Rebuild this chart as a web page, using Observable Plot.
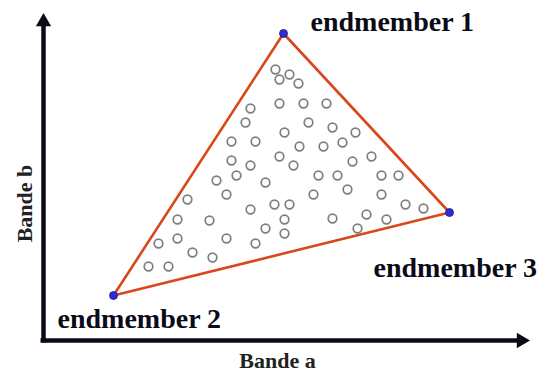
<!DOCTYPE html>
<html>
<head>
<meta charset="utf-8">
<script src="https://cdn.jsdelivr.net/npm/d3@7"></script>
<script src="https://cdn.jsdelivr.net/npm/@observablehq/plot@0.6"></script>
<style>
  html, body { margin: 0; padding: 0; background: #fff; }
  #chart { width: 540px; height: 372px; }
</style>
</head>
<body>
<div id="chart"></div>
<script>
// Pixel (Bande a, Bande b) values; origin at the axes corner
const endmemberNames = ["endmember 1", "endmember 2", "endmember 3"];
const endmemberA = [240, 70, 406];
const endmemberB = [307, 45, 128];

const pixelA = [232, 246, 236, 255, 207, 236, 260, 283, 202, 265, 289, 312, 241, 188, 212, 256, 280, 299,
  188, 207, 236, 250, 309, 328, 173, 193, 222, 275, 294, 338, 355, 183, 270, 304, 338, 144,
  207, 231, 246, 362, 380, 134, 166, 241, 289, 323, 343, 222, 314, 241, 115, 134, 183, 212, 149, 169, 105, 125];
const pixelB = [271, 266, 261, 257, 232, 237, 237, 237, 218, 218, 213, 208, 208, 199, 199, 194, 194, 198,
  180, 175, 184, 175, 179, 184, 160, 165, 158, 165, 165, 165, 165, 146, 146, 151, 146, 141,
  131, 136, 136, 136, 132, 121, 120, 121, 122, 126, 121, 112, 112, 107, 97, 102, 102, 97, 88, 83, 74, 74];

const axisTipA = 489;   // end of Bande a axis
const axisTipB = 330;   // end of Bande b axis
const axisLabels = ["Bande a", "Bande b"];

const vertices = endmemberNames.map((name, i) => ({name, a: endmemberA[i], b: endmemberB[i]}));
const polygon = [...vertices, vertices[0]];
const pixels = pixelA.map((a, i) => ({a, b: pixelB[i]}));

const serif = "'Liberation Serif', 'Times New Roman', serif";
const ink = "#0b0b18";

const chart = Plot.plot({
  width: 540,
  height: 372,
  margin: 0,
  x: {domain: [-43, 497], axis: null},
  y: {domain: [-32, 340], axis: null},
  style: {background: "white", fontFamily: serif},
  marks: [
    // axes
    Plot.ruleX([0], {y1: -2.5, y2: axisTipB - 12, stroke: ink, strokeWidth: 4.5}),
    Plot.ruleY([0], {x1: -2.5, x2: axisTipA - 14, stroke: ink, strokeWidth: 4.5}),
    Plot.dot([{a: 0, b: axisTipB}], {x: "a", y: "b", symbol: "triangle2", r: 7.3, fill: ink, stroke: "none", dy: 11.3}),
    Plot.dot([{a: axisTipA, b: 0}], {x: "a", y: "b", symbol: "triangle2", r: 7.3, fill: ink, stroke: "none", rotate: 90, dx: -11.3}),
    Plot.text([axisLabels[0]], {x: [234], y: [-20], fontSize: 22, fontWeight: "bold", fill: "#222", fontFamily: serif}),
    Plot.text([axisLabels[1]], {x: [-19], y: [137], rotate: -90, fontSize: 22, fontWeight: "bold", fill: "#222", fontFamily: serif}),
    // simplex
    Plot.line(polygon, {x: "a", y: "b", stroke: "#d9471a", strokeWidth: 2.6}),
    // pixels
    Plot.dot(pixels, {x: "a", y: "b", r: 4.3, stroke: "#7e7e7e", strokeWidth: 1.7, fill: "white"}),
    // endmembers
    Plot.dot(vertices, {x: "a", y: "b", r: 4, fill: "#2a2fd4", stroke: "#1a1a80", strokeWidth: 0.8}),
    Plot.text([vertices[0]], {x: "a", y: "b", text: "name", textAnchor: "start", dx: 27, dy: -11, fontSize: 28, fontWeight: "bold", fill: ink, fontFamily: serif}),
    Plot.text([vertices[1]], {x: "a", y: "b", text: "name", textAnchor: "start", dx: -56, dy: 24, fontSize: 28, fontWeight: "bold", fill: ink, fontFamily: serif}),
    Plot.text([vertices[2]], {x: "a", y: "b", text: "name", textAnchor: "start", dx: -76, dy: 56, fontSize: 28, fontWeight: "bold", fill: ink, fontFamily: serif})
  ]
});
document.getElementById("chart").appendChild(chart);
</script>
</body>
</html>
